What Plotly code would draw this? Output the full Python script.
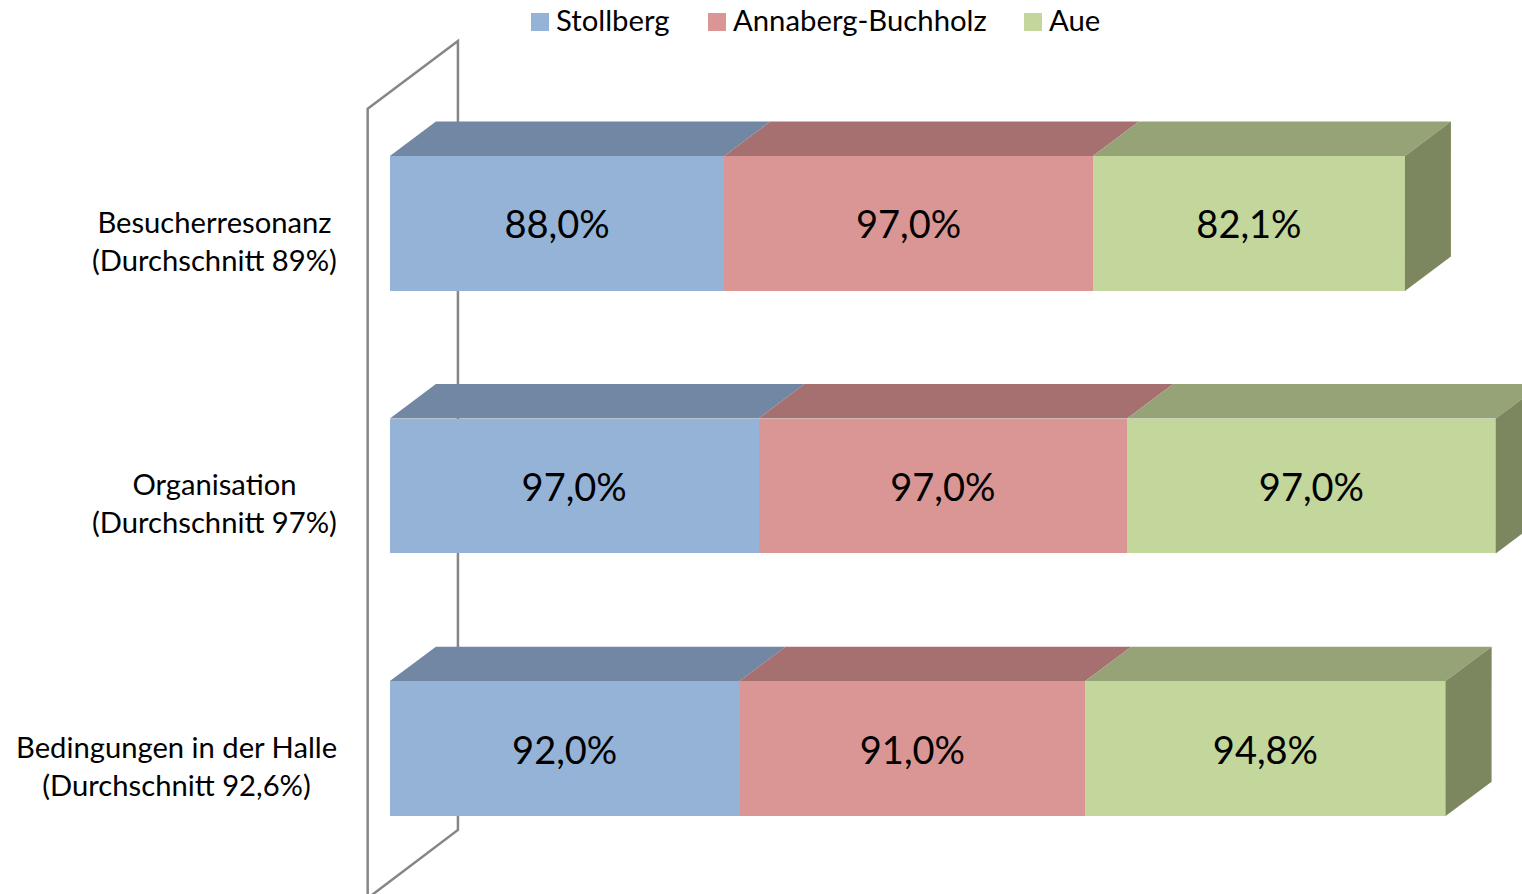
"""
Gestapelte 3D-Balken: Besucherumfrage je Standort
"""
import plotly.graph_objects as go

# Daten
categories = ['Besucherresonanz', 'Organisation', 'Bedingungen in der Halle']
averages = ['(Durchschnitt 89%)', '(Durchschnitt 97%)', '(Durchschnitt 92,6%)']
series_names = ['Stollberg', 'Annaberg-Buchholz', 'Aue']
stollberg = [88.0, 97.0, 92.0]
annaberg = [97.0, 97.0, 91.0]
aue = [82.1, 97.0, 94.8]

# Farben: Vorderseite, Oberseite, rechte Seite
front_colors = ['#95B3D7', '#D99694', '#C3D69B']
top_colors = ['#7187A4', '#A67070', '#95A376']
side_color = '#7C8760'
wall_color = '#868686'

# Achsen so, dass 1% = 3,8 px und eine Zeile = 262,5 px
X_RANGE = [-102.6, 297.9]
Y_RANGE = [2.554, -0.851]
BAR_WIDTH = 0.514
DEPTH_X = 12.1
DEPTH_Y = 0.131

# Legende (Position in Pixeln des Bildes)
LEGEND_SWATCH_X = [531, 708, 1024]
LEGEND_TEXT_X = [556, 733, 1049]
LEGEND_Y = 22
LEGEND_SWATCH = 18
WIDTH, HEIGHT = 1522, 894

FONT = 'Lato, Carlito, Calibri, sans-serif'

fig = go.Figure()

all_series = [stollberg, annaberg, aue]

# Oberseiten und Seitenflaeche je Balken
for row in range(len(categories)):
    start = 0
    top_y = row - BAR_WIDTH / 2
    bottom_y = row + BAR_WIDTH / 2
    for s, values in enumerate(all_series):
        end = start + values[row]
        fig.add_trace(go.Scatter(
            x=[start, end, end + DEPTH_X, start + DEPTH_X, start],
            y=[top_y, top_y, top_y - DEPTH_Y, top_y - DEPTH_Y, top_y],
            mode='lines', fill='toself', fillcolor=top_colors[s],
            line=dict(width=0), showlegend=False, hoverinfo='skip'
        ))
        start = end
    fig.add_trace(go.Scatter(
        x=[start, start + DEPTH_X, start + DEPTH_X, start, start],
        y=[top_y, top_y - DEPTH_Y, bottom_y - DEPTH_Y, bottom_y, top_y],
        mode='lines', fill='toself', fillcolor=side_color,
        line=dict(width=0), showlegend=False, hoverinfo='skip'
    ))

# Vorderseiten
for s, values in enumerate(all_series):
    fig.add_trace(go.Bar(
        x=values,
        y=list(range(len(categories))),
        orientation='h',
        width=BAR_WIDTH,
        name=series_names[s],
        showlegend=False,
        marker=dict(color=front_colors[s], line=dict(width=0)),
        texttemplate='%{x:.1f}%',
        textposition='inside',
        insidetextanchor='middle',
        textangle=0,
        textfont=dict(family=FONT, size=38, color='black'),
        hovertemplate=f'{series_names[s]}: ' + '%{x:.1f}%<extra></extra>'
    ))

# Rueckwand als Shape, damit sie hinter den Balken liegt
fig.add_shape(
    type='path',
    path='M -5.85,-0.437 L 17.9,-0.695 L 17.9,2.31 L -5.85,2.57 Z',
    xref='x', yref='y', layer='below',
    line=dict(color=wall_color, width=2.5)
)

# Kategorienamen links
for row, (cat, avg) in enumerate(zip(categories, averages)):
    fig.add_annotation(
        x=-13.4, y=row + 0.064, xref='x', yref='y',
        text=f'{cat}<br>{avg}', showarrow=False,
        xanchor='right', yanchor='middle', align='center',
        font=dict(family=FONT, size=29.2, color='black')
    )

# Legende oben
for s, name in enumerate(series_names):
    fig.add_shape(
        type='rect', xref='paper', yref='paper',
        x0=LEGEND_SWATCH_X[s] / WIDTH,
        x1=(LEGEND_SWATCH_X[s] + LEGEND_SWATCH) / WIDTH,
        y0=1 - (LEGEND_Y + LEGEND_SWATCH / 2) / HEIGHT,
        y1=1 - (LEGEND_Y - LEGEND_SWATCH / 2) / HEIGHT,
        fillcolor=front_colors[s], line=dict(width=0)
    )
    fig.add_annotation(
        x=LEGEND_TEXT_X[s] / WIDTH, y=1 - (LEGEND_Y - 2.5) / HEIGHT,
        xref='paper', yref='paper', text=name, showarrow=False,
        xanchor='left', yanchor='middle', xshift=-2,
        font=dict(family=FONT, size=29.3, color='black')
    )

fig.update_layout(
    barmode='stack',
    separators=',.',
    width=WIDTH,
    height=HEIGHT,
    margin=dict(l=0, r=0, t=0, b=0),
    paper_bgcolor='white',
    plot_bgcolor='white',
    font=dict(family=FONT, color='black'),
    showlegend=False,
    xaxis=dict(range=X_RANGE, visible=False, fixedrange=True),
    yaxis=dict(range=Y_RANGE, visible=False, fixedrange=True),
)

fig.write_html(
    "out.html",
    config=dict(displayModeBar=False),
    post_script="document.body.style.margin='0';document.body.style.overflow='hidden';"
)
